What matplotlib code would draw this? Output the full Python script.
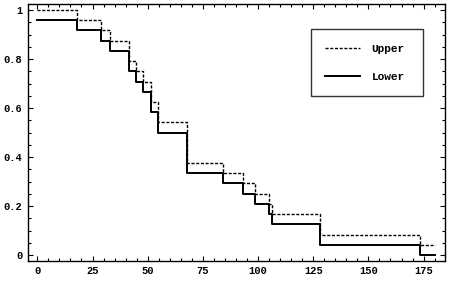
import matplotlib
matplotlib.use("Agg")
import matplotlib.pyplot as plt
from matplotlib.ticker import MultipleLocator

# Step times (where both curves drop) and end of follow-up
step_times = [0, 18, 28.7, 33, 41.3, 44.8, 48, 51.5, 54.5, 68, 84, 93, 98.6, 105.1, 106.2, 128, 173.3]
end_time = 180
# Curve levels after each step time
lower_vals = [0.958, 0.917, 0.875, 0.833, 0.750, 0.708, 0.667, 0.583, 0.500,
              0.333, 0.292, 0.250, 0.208, 0.167, 0.125, 0.042, 0.000]
upper_vals = [1.000, 0.958, 0.917, 0.875, 0.792, 0.750, 0.708, 0.625, 0.542,
              0.375, 0.333, 0.292, 0.250, 0.208, 0.167, 0.083, 0.042]
series_labels = ["Upper", "Lower"]
x_ticks = [0, 25, 50, 75, 100, 125, 150, 175]
y_ticks = [0, 0.2, 0.4, 0.6, 0.8, 1]
y_tick_labels = ["0", "0.2", "0.4", "0.6", "0.8", "1"]

font = ["Liberation Mono", "DejaVu Sans Mono"]

fig = plt.figure(figsize=(4.55, 2.88), dpi=100)
ax = fig.add_axes([0.061, 0.095, 0.917, 0.891])

xs = step_times + [end_time]
ax.step(xs, upper_vals + [upper_vals[-1]], where="post", color="black",
        lw=1.0, linestyle=(0, (2.2, 1.2)), label=series_labels[0])
ax.step(xs, lower_vals + [lower_vals[-1]], where="post", color="black",
        lw=1.4, linestyle="-", label=series_labels[1])

ax.set_xlim(-4.35, 184.7)
ax.set_ylim(-0.023, 1.0245)
ax.set_xticks(x_ticks)
ax.set_xticklabels([str(v) for v in x_ticks])
ax.set_yticks(y_ticks)
ax.set_yticklabels(y_tick_labels)
ax.xaxis.set_minor_locator(MultipleLocator(5))
ax.yaxis.set_minor_locator(MultipleLocator(0.05))
ax.tick_params(which="both", direction="in", top=True, right=True, width=0.8, color="black")
ax.tick_params(which="major", length=3.5)
ax.tick_params(which="minor", length=2)
ax.tick_params(axis="x", pad=4)
ax.tick_params(axis="y", pad=4)
for lab in ax.get_xticklabels() + ax.get_yticklabels():
    lab.set_fontfamily(font)
    lab.set_fontsize(7.5)
    lab.set_fontweight("bold")
for s in ax.spines.values():
    s.set_linewidth(1.0)
    s.set_color("black")

leg = ax.legend(loc="upper left", bbox_to_anchor=(0.679, 0.901, 0.268, 0.0),
                mode="expand", frameon=True, fancybox=False, edgecolor="black",
                prop={"family": font, "size": 8, "weight": "bold"},
                handlelength=3.15, labelspacing=1.65, borderpad=1.28, handletextpad=1.0,
                borderaxespad=0)
leg.get_frame().set_linewidth(1.0)

fig.savefig("out.png", dpi=100)
